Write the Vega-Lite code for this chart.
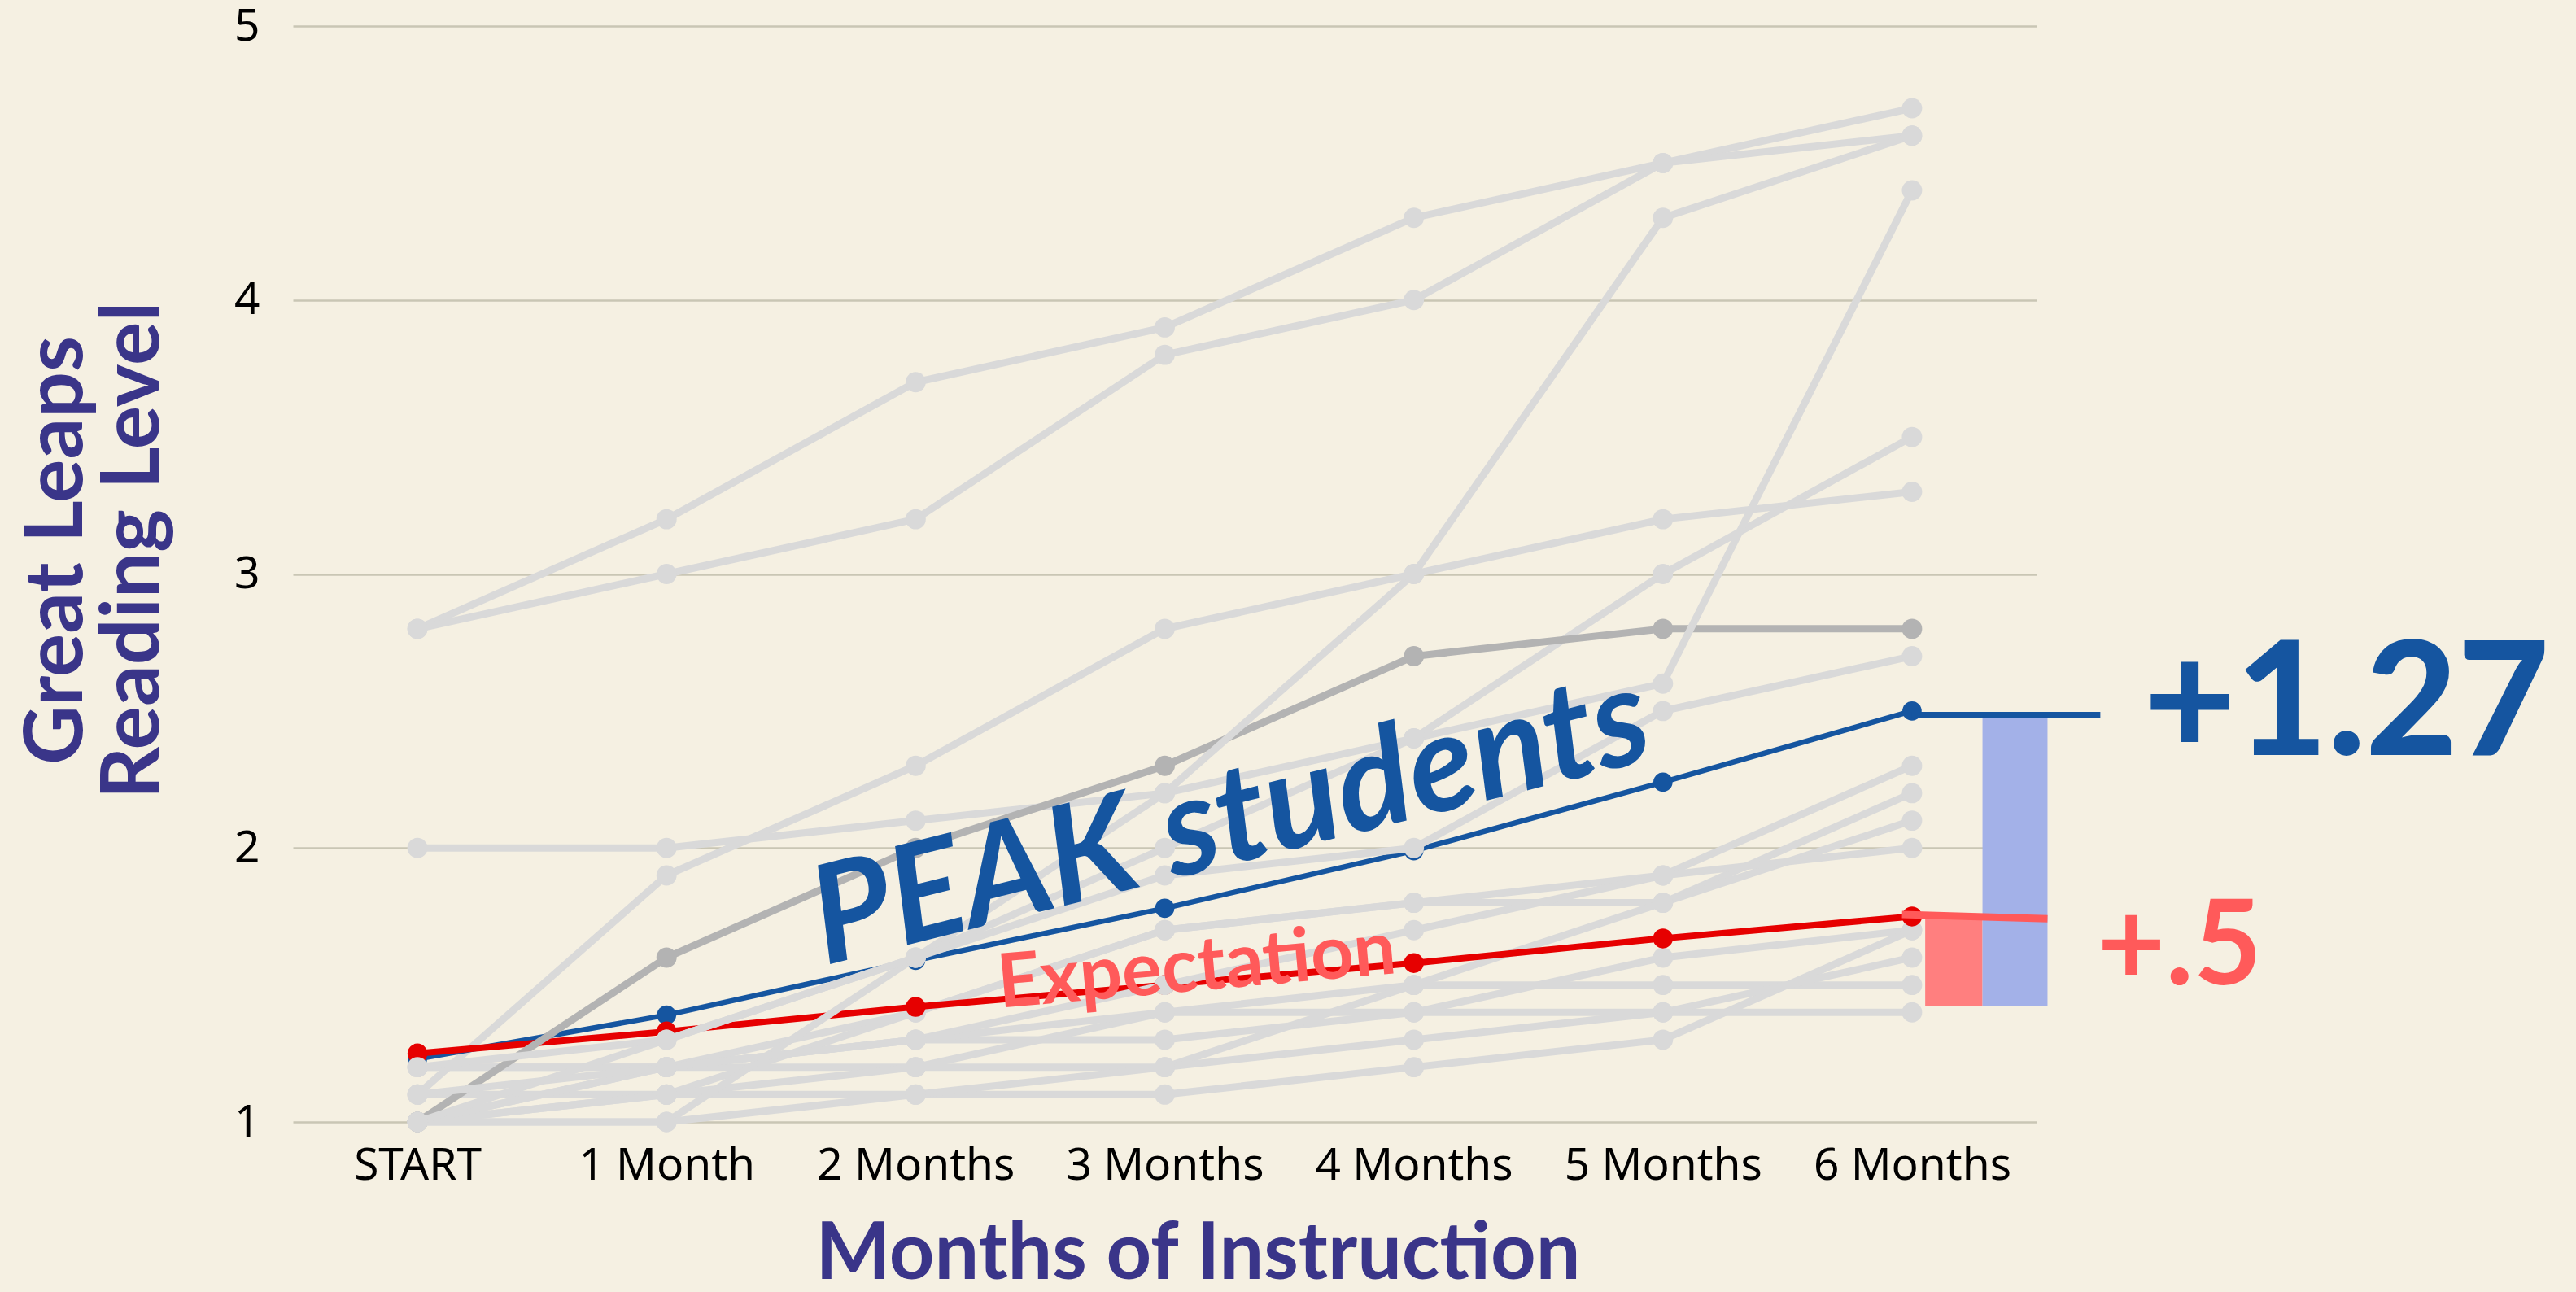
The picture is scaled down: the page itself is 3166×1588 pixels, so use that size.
{
  "$schema": "https://vega.github.io/schema/vega-lite/v6.json",
  "width": 2143,
  "height": 1347,
  "autosize": "none",
  "padding": {"left": 360, "top": 32, "right": 663, "bottom": 209},
  "background": "#f5f0e2",
  "config": {"view": {"stroke": null}, "font": "Lato"},
  "datasets": {
    "students": [
      {"s":"L1","g":"A","m":0,"v":2.8},{"s":"L1","g":"A","m":1,"v":3.2},{"s":"L1","g":"A","m":2,"v":3.7},{"s":"L1","g":"A","m":3,"v":3.9},{"s":"L1","g":"A","m":4,"v":4.3},{"s":"L1","g":"A","m":5,"v":4.5},{"s":"L1","g":"A","m":6,"v":4.7},
      {"s":"L2","g":"A","m":0,"v":2.8},{"s":"L2","g":"A","m":1,"v":3.0},{"s":"L2","g":"A","m":2,"v":3.2},{"s":"L2","g":"A","m":3,"v":3.8},{"s":"L2","g":"A","m":4,"v":4.0},{"s":"L2","g":"A","m":5,"v":4.5},{"s":"L2","g":"A","m":6,"v":4.6},
      {"s":"L3","g":"A","m":0,"v":1.1},{"s":"L3","g":"A","m":1,"v":1.9},{"s":"L3","g":"A","m":2,"v":2.3},{"s":"L3","g":"A","m":3,"v":2.8},{"s":"L3","g":"A","m":4,"v":3.0},{"s":"L3","g":"A","m":5,"v":3.2},{"s":"L3","g":"A","m":6,"v":3.3},
      {"s":"L4","g":"A","m":0,"v":2.0},{"s":"L4","g":"A","m":1,"v":2.0},{"s":"L4","g":"A","m":2,"v":2.1},{"s":"L4","g":"A","m":3,"v":2.2},{"s":"L4","g":"A","m":4,"v":2.4},{"s":"L4","g":"A","m":5,"v":3.0},{"s":"L4","g":"A","m":6,"v":3.5},
      {"s":"L5","g":"B","m":0,"v":1.0},{"s":"L5","g":"B","m":1,"v":1.0},{"s":"L5","g":"B","m":2,"v":1.6},{"s":"L5","g":"B","m":3,"v":2.2},{"s":"L5","g":"B","m":4,"v":3.0},{"s":"L5","g":"B","m":5,"v":4.3},{"s":"L5","g":"B","m":6,"v":4.6},
      {"s":"L6","g":"B","m":0,"v":1.2},{"s":"L6","g":"B","m":1,"v":1.3},{"s":"L6","g":"B","m":2,"v":1.6},{"s":"L6","g":"B","m":3,"v":2.0},{"s":"L6","g":"B","m":4,"v":2.4},{"s":"L6","g":"B","m":5,"v":2.6},{"s":"L6","g":"B","m":6,"v":4.4},
      {"s":"L7","g":"A","m":0,"v":1.2},{"s":"L7","g":"A","m":1,"v":1.2},{"s":"L7","g":"A","m":2,"v":1.4},{"s":"L7","g":"A","m":3,"v":1.7},{"s":"L7","g":"A","m":4,"v":1.8},{"s":"L7","g":"A","m":5,"v":1.9},{"s":"L7","g":"A","m":6,"v":2.3},
      {"s":"L8","g":"B","m":0,"v":1.1},{"s":"L8","g":"B","m":1,"v":1.2},{"s":"L8","g":"B","m":2,"v":1.3},{"s":"L8","g":"B","m":3,"v":1.5},{"s":"L8","g":"B","m":4,"v":1.7},{"s":"L8","g":"B","m":5,"v":1.9},{"s":"L8","g":"B","m":6,"v":2.0},
      {"s":"L9","g":"A","m":0,"v":1.0},{"s":"L9","g":"A","m":1,"v":1.1},{"s":"L9","g":"A","m":2,"v":1.4},{"s":"L9","g":"A","m":3,"v":1.7},{"s":"L9","g":"A","m":4,"v":1.8},{"s":"L9","g":"A","m":5,"v":1.8},{"s":"L9","g":"A","m":6,"v":2.2},
      {"s":"L10","g":"A","m":0,"v":1.0},{"s":"L10","g":"A","m":1,"v":1.2},{"s":"L10","g":"A","m":2,"v":1.2},{"s":"L10","g":"A","m":3,"v":1.4},{"s":"L10","g":"A","m":4,"v":1.5},{"s":"L10","g":"A","m":5,"v":1.8},{"s":"L10","g":"A","m":6,"v":2.1},
      {"s":"L11","g":"B","m":0,"v":1.0},{"s":"L11","g":"B","m":1,"v":1.3},{"s":"L11","g":"B","m":2,"v":1.6},{"s":"L11","g":"B","m":3,"v":1.9},{"s":"L11","g":"B","m":4,"v":2.0},{"s":"L11","g":"B","m":5,"v":2.5},{"s":"L11","g":"B","m":6,"v":2.7},
      {"s":"L12","g":"A","m":0,"v":1.2},{"s":"L12","g":"A","m":1,"v":1.2},{"s":"L12","g":"A","m":2,"v":1.3},{"s":"L12","g":"A","m":3,"v":1.3},{"s":"L12","g":"A","m":4,"v":1.4},{"s":"L12","g":"A","m":5,"v":1.6},{"s":"L12","g":"A","m":6,"v":1.7},
      {"s":"L13","g":"A","m":0,"v":1.0},{"s":"L13","g":"A","m":1,"v":1.0},{"s":"L13","g":"A","m":2,"v":1.1},{"s":"L13","g":"A","m":3,"v":1.1},{"s":"L13","g":"A","m":4,"v":1.2},{"s":"L13","g":"A","m":5,"v":1.3},{"s":"L13","g":"A","m":6,"v":1.7},
      {"s":"L14","g":"A","m":0,"v":1.1},{"s":"L14","g":"A","m":1,"v":1.1},{"s":"L14","g":"A","m":2,"v":1.2},{"s":"L14","g":"A","m":3,"v":1.2},{"s":"L14","g":"A","m":4,"v":1.5},{"s":"L14","g":"A","m":5,"v":1.5},{"s":"L14","g":"A","m":6,"v":1.5},
      {"s":"L15","g":"A","m":0,"v":1.0},{"s":"L15","g":"A","m":1,"v":1.1},{"s":"L15","g":"A","m":2,"v":1.1},{"s":"L15","g":"A","m":3,"v":1.2},{"s":"L15","g":"A","m":4,"v":1.3},{"s":"L15","g":"A","m":5,"v":1.4},{"s":"L15","g":"A","m":6,"v":1.4},
      {"s":"L16","g":"A","m":0,"v":1.0},{"s":"L16","g":"A","m":1,"v":1.2},{"s":"L16","g":"A","m":2,"v":1.3},{"s":"L16","g":"A","m":3,"v":1.4},{"s":"L16","g":"A","m":4,"v":1.4},{"s":"L16","g":"A","m":5,"v":1.4},{"s":"L16","g":"A","m":6,"v":1.6},
      {"s":"DARK","g":"D","m":0,"v":1.0},{"s":"DARK","g":"D","m":1,"v":1.6},{"s":"DARK","g":"D","m":2,"v":2.0},{"s":"DARK","g":"D","m":3,"v":2.3},{"s":"DARK","g":"D","m":4,"v":2.7},{"s":"DARK","g":"D","m":5,"v":2.8},{"s":"DARK","g":"D","m":6,"v":2.8},
      {"s":"PEAK","g":"P","m":0,"v":1.23},{"s":"PEAK","g":"P","m":1,"v":1.39},{"s":"PEAK","g":"P","m":2,"v":1.59},{"s":"PEAK","g":"P","m":3,"v":1.78},{"s":"PEAK","g":"P","m":4,"v":1.99},{"s":"PEAK","g":"P","m":5,"v":2.24},{"s":"PEAK","g":"P","m":6,"v":2.5},
      {"s":"EXP","g":"E","m":0,"v":1.25},{"s":"EXP","g":"E","m":1,"v":1.33},{"s":"EXP","g":"E","m":2,"v":1.42},{"s":"EXP","g":"E","m":3,"v":1.5},{"s":"EXP","g":"E","m":4,"v":1.58},{"s":"EXP","g":"E","m":5,"v":1.67},{"s":"EXP","g":"E","m":6,"v":1.75}
    ],
    "bars": [
      {"k":"Expectation gain","m":6.053,"m2":6.283,"v":1.425,"v2":1.75},
      {"k":"PEAK gain","m":6.283,"m2":6.544,"v":1.425,"v2":2.48}
    ],
    "ext": [
      {"k":"PEAK","m":6.0,"v":2.485},{"k":"PEAK","m":6.756,"v":2.485},
      {"k":"EXP","m":5.96,"v":1.757},{"k":"EXP","m":6.544,"v":1.742}
    ],
    "notes": [
      {"k":"peak","t":"PEAK students","m":3.306,"v":1.95},
      {"k":"exp","t":"Expectation","m":3.136,"v":1.48},
      {"k":"gainP","t":"+1.27","m":6.93,"v":2.338},
      {"k":"gainE","t":"+.5","m":6.743,"v":1.502}
    ]
  },
  "layer": [
    {
      "data": {"name": "students"},
      "transform": [{"filter": "datum.g === 'A'"}],
      "mark": {"type": "line", "color": "#d9d9d9", "strokeWidth": 9},
      "encoding": {
        "x": {"field": "m", "type": "quantitative", "scale": {"domain": [-0.5, 6.5], "nice": false, "zero": false},
          "axis": {"values": [0,1,2,3,4,5,6], "labelExpr": "['START','1 Month','2 Months','3 Months','4 Months','5 Months','6 Months'][datum.value]",
            "grid": false, "domain": false, "ticks": false, "labelFont": "Noto Sans", "labelFontSize": 55, "labelColor": "#000000", "labelPadding": 27, "labelLimit": 0,
            "title": "Months of Instruction", "titleFont": "Lato", "titleFontSize": 97, "titleFontWeight": "bold", "titleColor": "#3a3589",
            "titleX": 1112, "titleY": 192, "titleBaseline": "alphabetic", "titleAlign": "center", "titleLimit": 0, "labelOverlap": false}},
        "y": {"field": "v", "type": "quantitative", "scale": {"domain": [1, 5], "nice": false, "zero": false},
          "axis": {"values": [1,2,3,4,5], "format": "d", "grid": true, "gridColor": "#c9c6b4", "gridWidth": 2.5, "domain": false, "ticks": false,
            "labelFont": "Noto Sans", "labelFontSize": 55, "labelColor": "#000000", "labelPadding": 41,
            "title": ["Great Leaps", "Reading Level"], "titleFont": "Lato", "titleFontSize": 100, "titleFontWeight": "bold", "titleColor": "#3a3589",
            "titleLineHeight": 94, "titleX": -260, "titleY": 644, "titleBaseline": "alphabetic", "titleAlign": "center", "titleAngle": -90, "titleLimit": 0}},
        "detail": {"field": "s"}
      }
    },
    {
      "data": {"name": "students"},
      "transform": [{"filter": "datum.g === 'A'"}],
      "mark": {"type": "point", "filled": true, "opacity": 1, "size": 620, "color": "#d9d9d9"},
      "encoding": {"x": {"field": "m", "type": "quantitative"}, "y": {"field": "v", "type": "quantitative"}}
    },
    {
      "data": {"name": "students"},
      "transform": [{"filter": "datum.g === 'P'"}],
      "mark": {"type": "line", "color": "#1555a0", "strokeWidth": 6.5},
      "encoding": {"x": {"field": "m", "type": "quantitative"}, "y": {"field": "v", "type": "quantitative"}}
    },
    {
      "data": {"name": "students"},
      "transform": [{"filter": "datum.g === 'P'"}],
      "mark": {"type": "point", "filled": true, "opacity": 1, "size": 560, "color": "#1555a0"},
      "encoding": {"x": {"field": "m", "type": "quantitative"}, "y": {"field": "v", "type": "quantitative"}}
    },
    {
      "data": {"name": "students"},
      "transform": [{"filter": "datum.g === 'E'"}],
      "mark": {"type": "line", "color": "#e60000", "strokeWidth": 8},
      "encoding": {"x": {"field": "m", "type": "quantitative"}, "y": {"field": "v", "type": "quantitative"}}
    },
    {
      "data": {"name": "students"},
      "transform": [{"filter": "datum.g === 'E'"}],
      "mark": {"type": "point", "filled": true, "opacity": 1, "size": 600, "color": "#e60000"},
      "encoding": {"x": {"field": "m", "type": "quantitative"}, "y": {"field": "v", "type": "quantitative"}}
    },
    {
      "data": {"name": "students"},
      "transform": [{"filter": "datum.g === 'D'"}],
      "mark": {"type": "line", "color": "#b3b3b3", "strokeWidth": 9},
      "encoding": {"x": {"field": "m", "type": "quantitative"}, "y": {"field": "v", "type": "quantitative"}}
    },
    {
      "data": {"name": "students"},
      "transform": [{"filter": "datum.g === 'D'"}],
      "mark": {"type": "point", "filled": true, "opacity": 1, "size": 620, "color": "#b3b3b3"},
      "encoding": {"x": {"field": "m", "type": "quantitative"}, "y": {"field": "v", "type": "quantitative"}}
    },
    {
      "data": {"name": "students"},
      "transform": [{"filter": "datum.g === 'B'"}],
      "mark": {"type": "line", "color": "#d9d9d9", "strokeWidth": 9},
      "encoding": {"x": {"field": "m", "type": "quantitative"}, "y": {"field": "v", "type": "quantitative"}, "detail": {"field": "s"}}
    },
    {
      "data": {"name": "students"},
      "transform": [{"filter": "datum.g === 'B'"}],
      "mark": {"type": "point", "filled": true, "opacity": 1, "size": 620, "color": "#d9d9d9"},
      "encoding": {"x": {"field": "m", "type": "quantitative"}, "y": {"field": "v", "type": "quantitative"}}
    },
    {
      "data": {"name": "bars"},
      "mark": {"type": "rect"},
      "encoding": {
        "x": {"field": "m", "type": "quantitative"}, "x2": {"field": "m2"},
        "y": {"field": "v", "type": "quantitative"}, "y2": {"field": "v2"},
        "color": {"field": "k", "type": "nominal", "scale": {"domain": ["Expectation gain", "PEAK gain"], "range": ["#ff7f7f", "#a3b1e8"]}, "legend": null}
      }
    },
    {
      "data": {"name": "ext"},
      "transform": [{"filter": "datum.k === 'PEAK'"}],
      "mark": {"type": "line", "color": "#1555a0", "strokeWidth": 8},
      "encoding": {"x": {"field": "m", "type": "quantitative"}, "y": {"field": "v", "type": "quantitative"}}
    },
    {
      "data": {"name": "ext"},
      "transform": [{"filter": "datum.k === 'EXP'"}],
      "mark": {"type": "line", "color": "#ff5a5a", "strokeWidth": 9},
      "encoding": {"x": {"field": "m", "type": "quantitative"}, "y": {"field": "v", "type": "quantitative"}}
    },
    {
      "data": {"name": "notes"},
      "transform": [{"filter": "datum.k === 'peak'"}],
      "mark": {"type": "text", "font": "Lato", "fontSize": 168, "fontWeight": "bold", "fontStyle": "italic", "color": "#1555a0", "angle": -14, "align": "center", "baseline": "alphabetic"},
      "encoding": {"x": {"field": "m", "type": "quantitative"}, "y": {"field": "v", "type": "quantitative"}, "text": {"field": "t"}}
    },
    {
      "data": {"name": "notes"},
      "transform": [{"filter": "datum.k === 'exp'"}],
      "mark": {"type": "text", "font": "Lato", "fontSize": 92, "fontWeight": "bold", "color": "#ff5a5a", "angle": -5, "align": "center", "baseline": "alphabetic"},
      "encoding": {"x": {"field": "m", "type": "quantitative"}, "y": {"field": "v", "type": "quantitative"}, "text": {"field": "t"}}
    },
    {
      "data": {"name": "notes"},
      "transform": [{"filter": "datum.k === 'gainP'"}],
      "mark": {"type": "text", "font": "Lato", "fontSize": 195, "fontWeight": 900, "color": "#1555a0", "align": "left", "baseline": "alphabetic"},
      "encoding": {"x": {"field": "m", "type": "quantitative"}, "y": {"field": "v", "type": "quantitative"}, "text": {"field": "t"}}
    },
    {
      "data": {"name": "notes"},
      "transform": [{"filter": "datum.k === 'gainE'"}],
      "mark": {"type": "text", "font": "Lato", "fontSize": 145, "fontWeight": "bold", "color": "#ff5a5a", "align": "left", "baseline": "alphabetic"},
      "encoding": {"x": {"field": "m", "type": "quantitative"}, "y": {"field": "v", "type": "quantitative"}, "text": {"field": "t"}}
    }
  ]
}
